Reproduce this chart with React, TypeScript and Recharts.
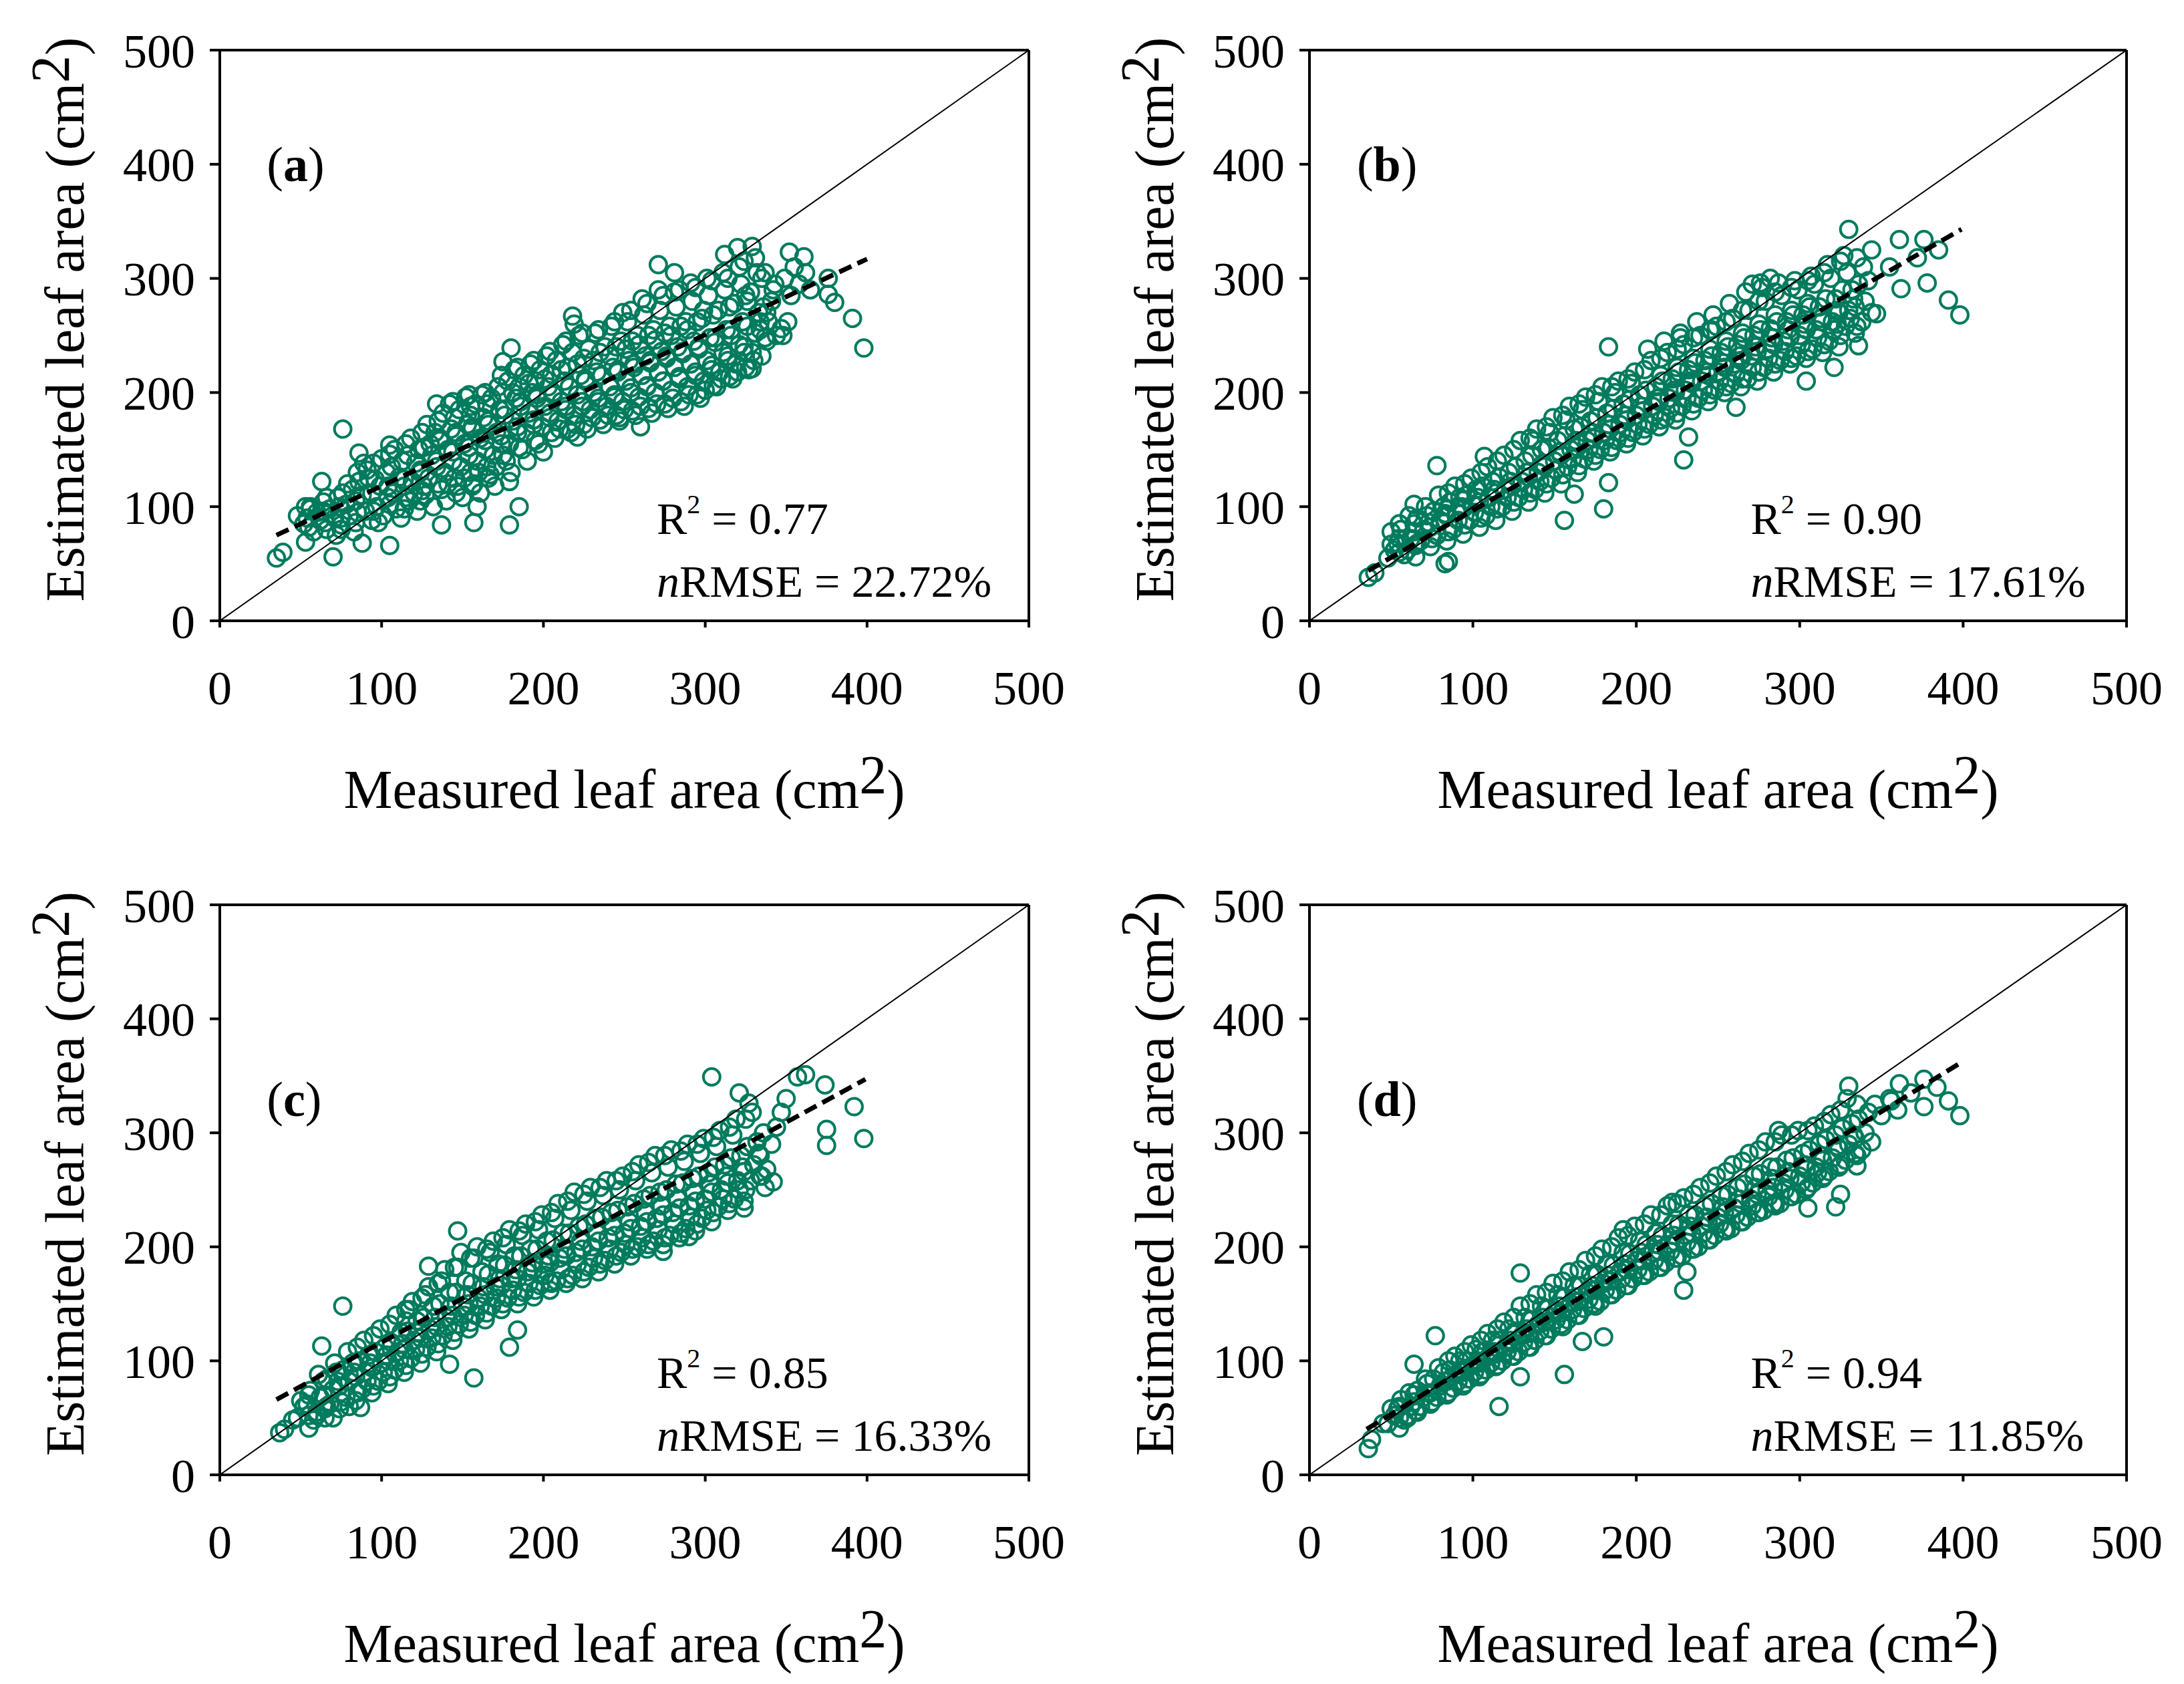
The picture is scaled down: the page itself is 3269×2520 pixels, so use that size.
import React from 'react';
import { ScatterChart, Scatter, XAxis, YAxis, ReferenceLine, ReferenceDot, Label } from 'recharts';

type Pt = [number, number];

const FONT = "'Liberation Serif', 'Times New Roman', Times, serif";
const GREEN = '#007B5E';

const axisTicks = [0, 100, 200, 300, 400, 500];
const panelLetters = ['a', 'b', 'c', 'd'];
const r2Values = ['0.77', '0.90', '0.85', '0.94'];
const nrmseValues = ['22.72%', '17.61%', '16.33%', '11.85%'];
const xTitle = 'Measured leaf area (cm';
const yTitle = 'Estimated leaf area (cm';

// regression line end points [start, end]
const regA: Pt[] = [[35, 75], [400, 317]];
const regB: Pt[] = [[36, 44], [399, 343]];
const regC: Pt[] = [[35, 66], [399, 347]];
const regD: Pt[] = [[35, 40], [398, 361]];
const oneToOne: Pt[] = [[0, 0], [500, 500]];

const pointsA: Pt[] = [
  [35,55],[39,60],[53,69],[70,56],[76,168],[63,122],[53,100],[88,68],[105,66],[86,147],[105,154],[137,84],[157,86],[179,84],[185,100],[159,100],[180,239],[175,227],[218,267],[271,312],[281,305],[312,321],[320,327],[329,328],[337,305],[352,323],[361,319],[376,300],[376,286],[380,279],[391,265],[398,239],[329,221],[338,245],[344,250],[347,256],[260,170],[247,175],[221,161],
  [48,92],[52,85],[56,98],[58,78],
  [60,95],[62,88],[64,104],[66,80],
  [68,98],[71,90],[73,108],[75,84],[72,75],
  [78,102],[80,92],[82,115],[84,86],[79,120],[83,78],
  [88,110],[90,96],[92,125],[94,88],[89,138],[91,132],
  [97,100],[99,118],[101,92],[103,130],[100,142],[104,108],[98,86],
  [107,112],[109,98],[111,126],[113,140],[108,150],[112,90],[114,118],
  [117,105],[119,122],[121,138],[123,150],[118,160],[122,96],[124,130],[120,112],
  [127,110],[129,125],[131,145],[133,165],[128,172],[132,100],[134,135],[130,155],[126,118],
  [137,115],[139,130],[141,150],[143,168],[138,182],[142,190],[140,105],[144,140],[136,160],[141,120],
  [147,118],[149,135],[151,155],[153,172],[148,185],[152,196],[150,108],[154,145],[146,165],[151,125],[155,180],
  [157,120],[159,140],[161,160],[163,178],[158,190],[162,198],[160,130],[164,150],[156,170],[161,112],
  [167,128],[169,145],[171,165],[173,185],[168,195],[172,205],[170,118],[174,155],[166,175],[171,135],
  [177,140],[179,155],[181,175],[183,195],[178,210],[182,220],[180,130],[184,165],[176,185],[181,200],[179,122],
  [187,150],[189,165],[191,182],[193,200],[188,215],[192,225],[190,140],[194,172],[186,192],[191,208],
  [197,155],[199,170],[201,188],[203,205],[198,220],[202,232],[200,148],[204,178],[196,198],[201,212],
  [207,160],[209,175],[211,192],[213,210],[208,228],[212,242],[210,168],[214,185],[206,200],[211,220],
  [217,165],[219,180],[221,198],[223,215],[218,235],[222,250],[220,172],[224,188],[216,205],[221,225],[219,260],
  [227,168],[229,185],[231,200],[233,218],[228,238],[232,252],[230,178],[234,192],[226,210],[231,228],
  [237,172],[239,188],[241,205],[243,222],[238,240],[242,258],[240,180],[244,196],[236,215],[241,232],
  [247,178],[249,192],[251,210],[253,228],[248,245],[252,262],[250,185],[254,200],[246,220],[251,238],[249,270],
  [257,180],[259,196],[261,215],[263,232],[258,250],[262,268],[260,188],[264,205],[256,225],[261,282],[259,242],
  [267,182],[269,200],[271,218],[273,236],[268,255],[272,272],[270,190],[274,210],[266,228],[271,290],[269,246],
  [277,186],[279,202],[281,222],[283,240],[278,258],[282,275],[280,195],[284,212],[276,232],[281,288],[279,250],
  [287,188],[289,205],[291,225],[293,245],[288,262],[292,280],[290,198],[294,215],[286,236],[291,296],[289,255],
  [297,195],[299,210],[301,228],[303,248],[298,265],[302,285],[300,202],[304,220],[296,240],[301,300],[299,272],
  [307,205],[309,218],[311,235],[313,255],[308,272],[312,290],[310,212],[314,228],[306,248],[311,305],
  [317,212],[319,225],[321,242],[323,262],[318,278],[322,295],[320,218],[324,235],[316,255],[321,310],
  [327,220],[329,235],[331,252],[333,270],[328,288],[332,305],[330,228],[334,262],[326,280],[331,318],
  [337,248],[339,262],[341,280],[343,295],[338,270],[342,290],
  [348,250],[351,262],[353,285],[349,300],[355,310],
  [358,295],[362,305],[365,290],
];

const pointsA2: Pt[] = [
  [55,82],[54,90],[56,100],
  [65,86],[64,96],[66,108],
  [75,90],[74,100],[76,112],[75,80],
  [85,95],[84,105],[86,122],[85,130],
  [95,96],[94,112],[96,124],[95,138],
  [105,102],[104,118],[106,135],[105,146],
  [115,108],[114,124],[116,145],[115,155],[114,98],
  [125,114],[124,132],[126,152],[125,165],[124,105],
  [135,120],[134,140],[136,158],[135,175],[134,190],
  [145,125],[144,148],[146,162],[145,178],[144,192],[146,112],
  [155,130],[154,152],[156,168],[155,188],[154,198],[156,118],
  [165,135],[164,158],[166,172],[165,190],[164,200],[166,125],
  [175,145],[174,162],[176,180],[175,200],[174,215],
  [185,152],[184,170],[186,188],[185,205],[184,222],
  [195,158],[194,176],[196,195],[195,210],[194,228],
  [205,165],[204,182],[206,198],[205,216],[204,236],
  [215,168],[214,188],[216,205],[215,222],[214,245],
  [225,172],[224,192],[226,212],[225,230],[224,252],
  [235,176],[234,195],[236,215],[235,235],[234,255],
  [245,180],[244,198],[246,218],[245,240],[244,262],
  [255,184],[254,204],[256,222],[255,245],[254,272],
  [265,186],[264,206],[266,226],[265,250],[264,278],
  [275,190],[274,210],[276,230],[275,252],[274,285],
  [285,192],[284,214],[286,234],[285,258],[284,290],
  [295,198],[294,218],[296,238],[295,262],[294,292],
  [305,206],[304,224],[306,244],[305,268],[304,298],
  [315,214],[314,232],[316,250],[315,275],[314,300],
  [325,222],[324,240],[326,258],[325,285],[324,315],
  [335,232],[334,255],[336,275],[335,300],
];

const pointsB: Pt[] = [
  [36,38],[40,42],[83,50],[85,52],[78,136],[107,144],[64,102],[183,240],[227,248],[246,255],[271,295],[276,296],[282,300],[330,343],[344,325],[361,334],[376,334],[355,310],[362,291],[378,296],[347,269],[391,281],[398,268],[336,241],[323,260],[321,222],[304,210],[261,187],[232,161],[229,141],[180,98],[156,88],[183,121],[162,111],[50,67],[55,85],[78,75],[372,318],[385,325],
  [48,55],[52,62],[55,72],[58,58],[50,78],
  [60,62],[62,72],[64,85],[66,68],[61,92],[65,56],
  [68,70],[70,80],[72,92],[74,65],[71,100],[73,86],
  [78,75],[80,88],[82,100],[84,70],[79,110],[83,94],
  [88,80],[90,95],[92,108],[94,76],[89,118],[93,100],[91,88],
  [98,88],[100,102],[102,115],[104,82],[99,125],[103,108],[101,95],
  [108,92],[110,108],[112,122],[114,88],[109,135],[113,115],[111,100],
  [118,100],[120,115],[122,130],[124,96],[119,145],[123,122],[121,108],
  [128,108],[130,122],[132,140],[134,104],[129,158],[133,130],[131,115],
  [138,115],[140,130],[142,150],[144,112],[139,168],[143,138],[141,122],[137,158],
  [148,125],[150,140],[152,158],[154,120],[149,178],[153,148],[151,132],[147,165],
  [158,135],[160,150],[162,168],[164,130],[159,188],[163,158],[161,142],[157,176],
  [168,142],[170,158],[172,175],[174,140],[169,196],[173,165],[171,150],[167,185],
  [178,150],[180,165],[182,182],[184,148],[179,205],[183,172],[181,158],[177,192],
  [188,158],[190,172],[192,190],[194,155],[189,210],[193,180],[191,165],[187,200],
  [198,165],[200,180],[202,198],[204,162],[199,218],[203,188],[201,172],[197,208],
  [208,172],[210,188],[212,205],[214,170],[209,228],[213,195],[211,180],[207,238],[215,215],
  [218,178],[220,195],[222,212],[224,176],[219,235],[223,202],[221,186],[217,245],[225,222],
  [228,188],[230,202],[232,220],[234,184],[229,242],[233,210],[231,195],[227,252],[235,230],
  [238,195],[240,210],[242,228],[244,192],[239,250],[243,218],[241,202],[237,262],[245,238],
  [248,202],[250,218],[252,235],[254,200],[249,258],[253,226],[251,210],[247,268],[255,245],
  [258,208],[260,225],[262,242],[264,205],[259,265],[263,232],[261,216],[257,278],[265,252],
  [268,212],[270,232],[272,250],[274,210],[269,272],[273,240],[271,222],[267,288],[275,260],
  [278,222],[280,238],[282,256],[284,218],[279,280],[283,248],[281,230],[277,292],[285,268],
  [288,228],[290,245],[292,262],[294,225],[289,285],[293,255],[291,236],[287,296],[295,272],
  [298,232],[300,250],[302,268],[304,230],[299,290],[303,260],[301,242],[297,298],[305,278],
  [308,238],[310,255],[312,275],[314,235],[309,295],[313,265],[311,248],[307,302],
  [318,245],[320,262],[322,282],[324,240],[319,300],[323,272],[321,255],[317,312],
  [328,258],[330,272],[332,290],[334,252],[329,305],[333,282],[331,265],[327,320],
  [338,262],[340,280],[342,298],[344,270],[339,310],
];

const pointsB2: Pt[] = [
  [55,60],[54,68],[56,80],
  [65,66],[64,78],[66,90],
  [75,72],[74,82],[76,96],
  [85,78],[84,92],[86,104],[85,112],
  [95,84],[94,98],[96,110],[95,120],
  [105,90],[104,104],[106,118],[105,130],
  [115,98],[114,112],[116,126],[115,140],
  [125,104],[124,118],[126,135],[125,150],
  [135,112],[134,126],[136,145],[135,160],
  [145,120],[144,135],[146,152],[145,170],
  [155,128],[154,145],[156,162],[155,180],
  [165,136],[164,152],[166,170],[165,190],
  [175,145],[174,160],[176,178],[175,198],
  [185,152],[184,168],[186,186],[185,205],
  [195,160],[194,176],[196,194],[195,212],
  [205,168],[204,184],[206,202],[205,220],
  [215,176],[214,192],[216,210],[215,230],
  [225,182],[224,200],[226,218],[225,238],
  [235,190],[234,208],[236,226],[235,248],
  [245,198],[244,215],[246,232],[245,255],
  [255,205],[254,222],[256,240],[255,262],
  [265,212],[264,228],[266,248],[265,272],
  [275,218],[274,236],[276,255],[275,280],
  [285,225],[284,242],[286,262],[285,288],
  [295,230],[294,248],[296,268],[295,292],
  [305,236],[304,255],[306,275],[305,298],
  [315,242],[314,262],[316,282],[315,305],
  [325,250],[324,270],[326,290],[325,315],
  [335,258],[334,275],[336,295],[335,318],
];

const pointsC: Pt[] = [
  [37,37],[40,40],[55,41],[63,113],[76,148],[157,85],[179,112],[184,127],[87,59],[142,97],[129,183],[147,214],[204,169],[274,196],[304,349],[321,335],[327,326],[357,349],[362,351],[374,342],[392,323],[398,295],[375,303],[375,289],[342,257],[337,252],[324,234],[290,209],[45,48],[60,52],[70,50],[80,60],
  [48,50],[52,60],[55,70],[58,48],[50,65],
  [60,55],[62,68],[64,82],[66,60],[61,88],[65,50],
  [68,62],[70,75],[72,90],[74,58],[71,98],[73,82],
  [78,68],[80,82],[82,98],[84,65],[79,108],[83,90],
  [88,75],[90,90],[92,105],[94,72],[89,118],[93,98],[91,82],
  [98,82],[100,98],[102,112],[104,80],[99,128],[103,105],[101,90],
  [108,92],[110,108],[112,125],[114,90],[109,140],[113,115],[111,100],[115,135],
  [118,102],[120,118],[122,135],[124,98],[119,152],[123,125],[121,110],[117,145],
  [128,112],[130,128],[132,148],[134,108],[129,165],[133,138],[131,120],[127,158],
  [138,122],[140,138],[142,160],[144,118],[139,180],[143,148],[141,130],[137,170],
  [148,132],[150,148],[152,170],[154,128],[149,195],[153,158],[151,140],[147,182],
  [158,140],[160,155],[162,178],[164,136],[159,200],[163,165],[161,148],[157,190],
  [168,148],[170,165],[172,185],[174,145],[169,205],[173,172],[171,155],[167,195],
  [178,155],[180,172],[182,192],[184,150],[179,215],[183,180],[181,162],[177,202],
  [188,160],[190,178],[192,198],[194,156],[189,220],[193,186],[191,168],[187,210],
  [198,166],[200,185],[202,205],[204,162],[199,228],[203,192],[201,175],[197,215],
  [208,170],[210,190],[212,212],[214,168],[209,238],[213,198],[211,180],[207,225],
  [218,175],[220,195],[222,218],[224,172],[219,248],[223,205],[221,185],[217,232],
  [228,182],[230,200],[232,225],[234,178],[229,252],[233,212],[231,190],[227,240],
  [238,188],[240,208],[242,230],[244,185],[239,258],[243,218],[241,198],[237,245],
  [248,195],[250,212],[252,235],[254,192],[249,262],[253,222],[251,202],[247,250],
  [258,200],[260,218],[262,242],[264,198],[259,272],[263,230],[261,208],[257,258],
  [268,205],[270,225],[272,248],[274,202],[269,280],[273,236],[271,215],[267,265],
  [278,210],[280,230],[282,255],[284,208],[279,285],[283,242],[281,220],[277,270],
  [288,216],[290,236],[292,260],[294,214],[289,290],[293,248],[291,226],[287,275],
  [298,225],[300,242],[302,265],[304,222],[299,295],[303,255],[301,232],[297,282],
  [308,235],[310,250],[312,272],[314,232],[309,302],[313,262],[311,242],[307,288],
  [318,242],[320,258],[322,280],[324,240],[319,312],[323,270],[321,250],[317,298],
  [328,258],[330,272],[332,292],[334,262],[329,318],[333,282],
  [338,268],[341,290],[344,305],[347,318],[350,330],
];

const pointsC2: Pt[] = [
  [55,52],[54,62],[56,74],
  [65,58],[64,70],[66,84],
  [75,64],[74,78],[76,92],
  [85,72],[84,86],[86,100],[85,112],
  [95,78],[94,94],[96,108],[95,122],
  [105,86],[104,100],[106,116],[105,132],
  [115,96],[114,110],[116,126],[115,145],
  [125,106],[124,120],[126,138],[125,155],
  [135,115],[134,130],[136,150],[135,168],
  [145,125],[144,140],[146,160],[145,182],
  [155,134],[154,150],[156,168],[155,190],
  [165,142],[164,158],[166,176],[165,198],
  [175,150],[174,166],[176,184],[175,208],
  [185,156],[184,172],[186,192],[185,214],
  [195,162],[194,180],[196,198],[195,222],
  [205,168],[204,186],[206,206],[205,230],
  [215,172],[214,192],[216,212],[215,240],
  [225,178],[224,198],[226,220],[225,246],
  [235,185],[234,205],[236,226],[235,252],
  [245,192],[244,210],[246,232],[245,258],
  [255,198],[254,216],[256,238],[255,266],
  [265,202],[264,222],[266,245],[265,274],
  [275,208],[274,228],[276,250],[275,280],
  [285,212],[284,234],[286,256],[285,284],
  [295,220],[294,240],[296,262],[295,290],
  [305,230],[304,248],[306,270],[305,296],
  [315,238],[314,256],[316,278],[315,305],
  [325,250],[324,266],[326,288],[325,312],
  [335,262],[334,280],[336,300],
];

const pointsD: Pt[] = [
  [36,23],[38,31],[55,41],[77,122],[64,97],[116,60],[129,177],[156,88],[129,86],[167,117],[180,121],[229,162],[231,178],[335,271],[322,235],[325,246],[305,234],[330,341],[398,315],[391,328],[376,323],[376,347],[361,343],[287,302],[222,239],[192,215],[368,335],[384,340],[355,330],[45,45],[60,50],
  [48,45],[52,52],[55,60],[58,48],[50,58],
  [60,52],[62,60],[64,70],[66,55],[61,72],
  [68,60],[70,68],[72,80],[74,62],[71,84],[73,72],
  [78,68],[80,78],[82,90],[84,70],[79,94],[83,82],
  [88,76],[90,88],[92,100],[94,78],[89,104],[93,92],[91,82],
  [98,84],[100,96],[102,110],[104,86],[99,114],[103,100],[101,90],
  [108,92],[110,104],[112,118],[114,95],[109,124],[113,108],[111,98],
  [118,100],[120,112],[122,128],[124,104],[119,134],[123,118],[121,108],
  [128,108],[130,122],[132,138],[134,112],[129,148],[133,128],[131,116],
  [138,118],[140,132],[142,148],[144,122],[139,158],[143,138],[141,126],
  [148,128],[150,142],[152,158],[154,132],[149,168],[153,148],[151,136],
  [158,136],[160,150],[162,166],[164,140],[159,178],[163,156],[161,145],
  [168,146],[170,160],[172,176],[174,150],[169,188],[173,166],[171,154],
  [178,152],[180,168],[182,185],[184,158],[179,198],[183,175],[181,162],
  [188,162],[190,178],[192,195],[194,166],[189,208],[193,185],[191,172],
  [198,172],[200,188],[202,205],[204,175],[199,218],[203,195],[201,180],
  [208,178],[210,195],[212,212],[214,182],[209,228],[213,202],[211,188],
  [218,186],[220,202],[222,220],[224,190],[219,236],[223,210],[221,196],
  [228,192],[230,210],[232,228],[234,198],[229,243],[233,218],[231,204],
  [238,200],[240,218],[242,236],[244,206],[239,252],[243,226],[241,212],
  [248,210],[250,226],[252,245],[254,215],[249,262],[253,235],[251,220],
  [258,216],[260,234],[262,252],[264,222],[259,272],[263,242],[261,228],
  [268,226],[270,242],[272,262],[274,230],[269,282],[273,252],[271,236],
  [278,232],[280,250],[282,270],[284,238],[279,292],[283,260],[281,244],
  [288,238],[290,256],[292,276],[294,244],[289,298],[293,266],[291,250],
  [298,246],[300,262],[302,282],[304,250],[299,302],[303,272],[301,256],
  [308,256],[310,270],[312,290],[314,260],[309,306],[313,280],[311,265],
  [318,266],[320,278],[322,298],[324,270],[319,316],[323,288],
  [328,276],[330,290],[332,308],[334,282],[329,330],[333,298],
  [338,285],[340,300],[342,318],[344,292],[346,325],[350,315],[356,328],[360,320],
];

const pointsD2: Pt[] = [
  [55,50],[54,58],[56,66],
  [65,56],[64,64],[66,74],
  [75,64],[74,72],[76,84],
  [85,72],[84,82],[86,92],[85,100],
  [95,80],[94,90],[96,100],[95,108],
  [105,88],[104,98],[106,108],[105,118],
  [115,96],[114,106],[116,118],[115,128],
  [125,104],[124,115],[126,126],[125,138],
  [135,112],[134,124],[136,136],[135,150],
  [145,122],[144,134],[146,146],[145,160],
  [155,130],[154,142],[156,156],[155,170],
  [165,140],[164,152],[166,166],[165,180],
  [175,148],[174,162],[176,176],[175,192],
  [185,158],[184,170],[186,184],[185,200],
  [195,166],[194,180],[196,194],[195,210],
  [205,175],[204,188],[206,202],[205,220],
  [215,182],[214,196],[216,210],[215,228],
  [225,190],[224,204],[226,220],[225,238],
  [235,198],[234,212],[236,228],[235,246],
  [245,206],[244,222],[246,238],[245,256],
  [255,214],[254,230],[256,246],[255,266],
  [265,222],[264,238],[266,255],[265,275],
  [275,230],[274,246],[276,264],[275,285],
  [285,236],[284,252],[286,270],[285,292],
  [295,244],[294,260],[296,278],[295,298],
  [305,252],[304,268],[306,285],[305,302],
  [315,262],[314,276],[316,294],[315,310],
  [325,272],[324,286],[326,304],[325,320],
  [335,280],[334,295],[336,312],[335,325],
];

const Y_W = 150;
const X_H = 110;

type Box = { l: number; t: number; r: number; b: number };

type PanelProps = {
  letter: string;
  points: Pt[];
  reg: Pt[];
  r2: string;
  nrmse: string;
  letterY: number;
  left: number;
  top: number;
  width: number;
  height: number;
  plot: Box;
};

const Marker = (props: any) => {
  if (props.cx == null || props.cy == null) return null;
  return <circle cx={props.cx} cy={props.cy} r={12.5} fill="none" stroke={GREEN} strokeWidth={4} />;
};

const NoMarker = () => <g />;

function Panel({ letter, points, reg, r2, nrmse, letterY, left, top, width, height, plot }: PanelProps) {
  const data = points.map(([x, y]) => ({ x, y }));
  const regData = reg.map(([x, y]) => ({ x, y }));
  const diagData = oneToOne.map(([x, y]) => ({ x, y }));
  const margin = {
    top: plot.t,
    left: plot.l - Y_W,
    right: width - plot.r,
    bottom: height - plot.b - X_H,
  };
  const tickStyle = { fill: '#000', fontSize: 72, fontFamily: FONT };
  return (
    <div style={{ position: 'absolute', left, top, width, height }}>
      <ScatterChart width={width} height={height} margin={margin}>
        <XAxis
          type="number"
          dataKey="x"
          domain={[0, 500]}
          ticks={axisTicks}
          interval={0}
          allowDataOverflow
          height={X_H}
          axisLine={{ stroke: '#000', strokeWidth: 4 }}
          tickLine={{ stroke: '#000', strokeWidth: 4 }}
          tickSize={10}
          tickMargin={64}
          tick={tickStyle}
        >
          <Label
            content={(p: any) => {
              const vb = p.viewBox || {};
              return (
                <text
                  x={vb.x + vb.width / 2}
                  y={vb.y + 280}
                  textAnchor="middle"
                  fontFamily={FONT}
                  fontSize={82}
                  fill="#000"
                >
                  {xTitle}
                  <tspan dy={-22}>2</tspan>
                  <tspan dy={22}>)</tspan>
                </text>
              );
            }}
          />
        </XAxis>
        <YAxis
          type="number"
          dataKey="y"
          domain={[0, 500]}
          ticks={axisTicks}
          interval={0}
          allowDataOverflow
          width={Y_W}
          axisLine={{ stroke: '#000', strokeWidth: 4 }}
          tickLine={{ stroke: '#000', strokeWidth: 4 }}
          tickSize={15}
          tickMargin={22}
          tick={tickStyle}
        >
          <Label
            content={(p: any) => {
              const vb = p.viewBox || {};
              const cx = vb.x + vb.width - 204;
              const cy = vb.y + vb.height / 2 - 24;
              return (
                <text
                  x={cx}
                  y={cy}
                  transform={`rotate(-90 ${cx} ${cy})`}
                  textAnchor="middle"
                  fontFamily={FONT}
                  fontSize={82}
                  fill="#000"
                >
                  {yTitle}
                  <tspan dy={-22}>2</tspan>
                  <tspan dy={22}>)</tspan>
                </text>
              );
            }}
          />
        </YAxis>
        <ReferenceLine y={500} stroke="#000" strokeWidth={4} />
        <ReferenceLine x={500} stroke="#000" strokeWidth={4} />
        <Scatter data={data} shape={<Marker />} isAnimationActive={false} />
        <Scatter
          data={diagData}
          shape={<NoMarker />}
          line={{ stroke: '#000', strokeWidth: 2 }}
          isAnimationActive={false}
        />
        <Scatter
          data={regData}
          shape={<NoMarker />}
          line={{ stroke: '#000', strokeWidth: 7, strokeDasharray: '20 10' }}
          isAnimationActive={false}
        />
        <ReferenceDot
          x={29}
          y={letterY}
          r={1}
          fill="none"
          stroke="none"
          label={{
            content: (p: any) => {
              const vb = p.viewBox || {};
              return (
                <text x={vb.x + 1} y={vb.y + 1} fontFamily={FONT} fontSize={74} fill="#000">
                  (<tspan fontWeight="bold">{letter}</tspan>)
                </text>
              );
            },
          }}
        />
        <ReferenceDot
          x={270}
          y={76}
          r={1}
          fill="none"
          stroke="none"
          label={{
            content: (p: any) => {
              const vb = p.viewBox || {};
              return (
                <text x={vb.x + 1} y={vb.y + 1} fontFamily={FONT} fontSize={68} fill="#000">
                  R<tspan fontSize={40} dy={-31}>2</tspan>
                  <tspan dy={31}>{` = ${r2}`}</tspan>
                </text>
              );
            },
          }}
        />
        <ReferenceDot
          x={270}
          y={21}
          r={1}
          fill="none"
          stroke="none"
          label={{
            content: (p: any) => {
              const vb = p.viewBox || {};
              return (
                <text x={vb.x + 1} y={vb.y + 1} fontFamily={FONT} fontSize={68} fill="#000">
                  <tspan fontStyle="italic">n</tspan>
                  {`RMSE = ${nrmse}`}
                </text>
              );
            },
          }}
        />
      </ScatterChart>
    </div>
  );
}

const layouts = [
  { left: 0, top: 0, width: 1634, height: 1260, plot: { l: 329, t: 75, r: 1540, b: 929 }, letterY: 385 },
  { left: 1634, top: 0, width: 1635, height: 1260, plot: { l: 326, t: 75, r: 1549, b: 929 }, letterY: 385 },
  { left: 0, top: 1260, width: 1634, height: 1260, plot: { l: 329, t: 94, r: 1540, b: 947 }, letterY: 315 },
  { left: 1634, top: 1260, width: 1635, height: 1260, plot: { l: 326, t: 94, r: 1549, b: 947 }, letterY: 315 },
];

const allPoints = [
  pointsA.concat(pointsA2),
  pointsB.concat(pointsB2),
  pointsC.concat(pointsC2),
  pointsD.concat(pointsD2),
];
const allRegs = [regA, regB, regC, regD];

export default function App() {
  return (
    <div style={{ position: 'absolute', left: 0, top: 0, width: 3269, height: 2520, background: '#fff' }}>
      {layouts.map((lay, i) => (
        <Panel
          key={panelLetters[i]}
          letter={panelLetters[i]}
          points={allPoints[i]}
          reg={allRegs[i]}
          r2={r2Values[i]}
          nrmse={nrmseValues[i]}
          letterY={lay.letterY}
          left={lay.left}
          top={lay.top}
          width={lay.width}
          height={lay.height}
          plot={lay.plot}
        />
      ))}
    </div>
  );
}
